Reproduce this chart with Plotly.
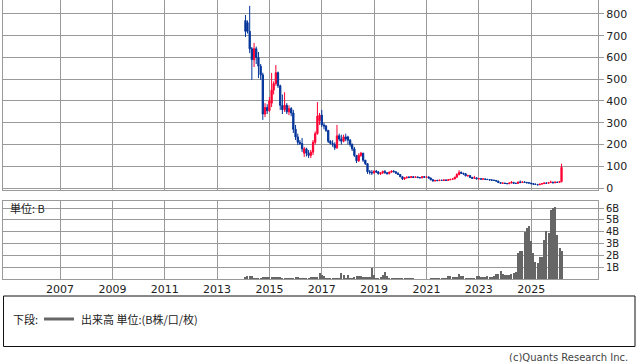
import pandas as pd
import plotly.graph_objects as go

# Monthly bars, Feb 2014 .. Mar 2026
dates = pd.date_range("2014-02-01", periods=146, freq="MS")

opens = [
    770, 760, 720, 640, 590, 640, 600, 560, 520, 340, 370,
    355, 390, 450, 480, 530, 470, 380, 360, 380, 350, 365, 345,
    270, 235, 210, 205, 160, 180, 160, 150, 165, 210, 250, 310,
    335, 290, 285, 265, 215, 205, 200, 185, 240, 225, 215, 235,
    235, 220, 200, 180, 150, 125, 150, 160, 128, 112, 75, 72,
    70, 78, 74, 66, 70, 76, 70, 66, 73, 78, 75, 68,
    62, 52, 42, 47, 50, 48, 52, 49, 51, 48, 47, 52,
    50, 51, 46, 38, 33, 35, 34, 36, 35, 37, 35, 38,
    40, 42, 50, 62, 72, 68, 66, 56, 58, 48, 45, 47,
    42, 43, 41, 42, 40, 39, 37, 36, 35, 32, 25, 22,
    23, 21, 20, 23, 26, 22, 21, 27, 26, 28, 26, 24,
    23, 20, 18, 17, 15, 18, 20, 23, 22, 25, 27, 24,
    27, 26, 29,
]
highs = [
    795, 770, 837, 648, 667, 650, 625, 570, 530, 390, 385,
    418, 529, 490, 565, 535, 475, 430, 440, 390, 380, 372, 359,
    290, 250, 221, 230, 189, 185, 175, 175, 221, 260, 395, 345,
    359, 300, 290, 267, 220, 220, 210, 290, 250, 245, 245, 250,
    240, 225, 205, 189, 152, 160, 166, 162, 129, 115, 83, 83,
    80, 83, 78, 72, 80, 83, 74, 76, 80, 82, 77, 72,
    64, 54, 50, 52, 55, 54, 54, 53, 53, 51, 54, 55,
    56, 54, 48, 42, 37, 38, 38, 38, 39, 39, 40, 42,
    44, 52, 68, 82, 76, 70, 68, 60, 59, 52, 56, 48,
    45, 44, 44, 43, 42, 41, 40, 38, 36, 33, 27, 25,
    24, 23, 25, 32, 28, 24, 30, 35, 30, 30, 28, 27,
    24, 21, 20, 18, 19, 22, 26, 25, 27, 34, 29, 30,
    29, 32, 112,
]
lows = [
    694, 710, 620, 497, 556, 570, 505, 497, 313, 326, 340,
    350, 372, 430, 470, 460, 359, 340, 350, 340, 335, 330, 253,
    221, 198, 198, 166, 143, 145, 138, 138, 152, 200, 245, 290,
    281, 270, 258, 207, 200, 190, 175, 180, 215, 200, 210, 215,
    200, 190, 170, 143, 115, 120, 143, 120, 106, 65, 62, 60,
    65, 70, 62, 60, 64, 66, 62, 63, 70, 72, 66, 60,
    50, 37, 37, 44, 46, 46, 47, 46, 47, 45, 45, 48,
    47, 44, 36, 30, 30, 32, 32, 33, 33, 34, 33, 36,
    37, 40, 48, 58, 64, 60, 54, 52, 46, 43, 43, 40,
    40, 39, 38, 38, 37, 35, 34, 33, 30, 24, 20, 20,
    19, 18, 18, 21, 21, 19, 20, 22, 23, 24, 22, 21,
    19, 16, 15, 12, 14, 17, 19, 20, 21, 23, 22, 23,
    24, 24, 27,
]
closes = [
    720, 720, 640, 590, 640, 600, 560, 520, 340, 370, 355,
    400, 450, 480, 530, 470, 380, 360, 380, 350, 365, 345, 270,
    235, 210, 205, 180, 180, 160, 150, 165, 210, 250, 330, 335,
    290, 285, 265, 215, 205, 200, 185, 240, 225, 215, 235, 225,
    220, 200, 180, 150, 125, 150, 160, 128, 112, 75, 72, 70,
    78, 74, 66, 70, 76, 70, 66, 73, 78, 75, 68, 62,
    52, 42, 47, 50, 48, 52, 49, 51, 48, 47, 52, 50,
    51, 46, 38, 33, 35, 34, 36, 35, 37, 35, 38, 40,
    42, 50, 62, 72, 68, 66, 56, 58, 48, 45, 47, 42,
    43, 41, 42, 40, 39, 37, 36, 35, 32, 25, 22, 23,
    21, 20, 23, 26, 22, 21, 27, 26, 28, 26, 24, 23,
    20, 18, 17, 15, 18, 20, 23, 22, 25, 27, 24, 27,
    26, 29, 95,
]
volume_b = [
    0.15, 0.25, 0.24, 0.22, 0.12, 0.1, 0.1, 0.08, 0.2, 0.2,
    0.2, 0.18, 0.18, 0.18, 0.15, 0.15, 0.15, 0.1, 0.1, 0.1,
    0.1, 0.1, 0.1, 0.13, 0.13, 0.1, 0.1, 0.1, 0.1, 0.12,
    0.15, 0.15, 0.2, 0.2, 0.52, 0.3, 0.22, 0.1, 0.08, 0.08,
    0.08, 0.08, 0.1, 0.1, 0.52, 0.35, 0.12, 0.32, 0.12, 0.12,
    0.2, 0.25, 0.28, 0.22, 0.15, 0.18, 0.2, 0.15, 0.95, 0.3,
    0.12, 0.12, 0.15, 0.37, 0.6, 0.28, 0.1, 0.08, 0.08, 0.08,
    0.08, 0.1, 0.08, 0.08, 0.08, 0.1, 0.08, 0.05, 0.04, 0.03,
    0.03, 0.03, 0.04, 0.03, 0.03, 0.08, 0.1, 0.1, 0.1, 0.12,
    0.1, 0.1, 0.1, 0.28, 0.28, 0.15, 0.15, 0.15, 0.45, 0.22,
    0.22, 0.08, 0.08, 0.08, 0.08, 0.1, 0.22, 0.22, 0.15, 0.15,
    0.15, 0.22, 0.2, 0.2, 0.28, 0.42, 0.42, 0.65, 0.4, 0.37,
    0.37, 0.37, 0.45, 0.5, 0.6, 2.2, 2.4, 2.4, 4.0, 4.3,
    4.5, 3.2, 2.2, 1.4, 1.35, 1.9, 1.9, 3.3, 4.1, 3.9,
    5.8, 6.0, 6.1, 3.75, 2.6, 2.4,
]

year_ticks = ["2007", "2009", "2011", "2013", "2015", "2017", "2019", "2021", "2023", "2025"]
price_ticks = [0, 100, 200, 300, 400, 500, 600, 700, 800]
vol_ticks = [1, 2, 3, 4, 5, 6]
vol_tick_text = ["1B", "2B", "3B", "4B", "5B", "6B"]

RED = "#ff0033"
BLUE = "#003399"
GRID = "#9a9a9a"
FONT = "DejaVu Sans"
JFONT = "Noto Sans CJK JP"

W, H = 638, 362
ML, MR, MT, MB = 3, 40, 0, 83
PW = W - ML - MR
PH = H - MT - MB


def px_x(px):
    return (px - ML) / PW


def px_y(py):
    return (MT + PH - py) / PH


fig = go.Figure()
fig.add_trace(go.Candlestick(
    x=dates, open=opens, high=highs, low=lows, close=closes,
    increasing=dict(line=dict(color=RED, width=1), fillcolor=RED),
    decreasing=dict(line=dict(color=BLUE, width=1), fillcolor=BLUE),
    whiskerwidth=0, xaxis="x", yaxis="y", showlegend=False, hoverinfo="skip",
))
fig.add_trace(go.Bar(
    x=dates, y=volume_b, marker=dict(color="#666666", line=dict(width=0)),
    xaxis="x2", yaxis="y2", showlegend=False, hoverinfo="skip",
))

xr = ["2004-10-27", "2027-07-23"]
tickvals_x = [f"{y}-01-01" for y in year_ticks]
common_x = dict(
    type="date", range=xr, tickvals=tickvals_x, ticktext=year_ticks,
    showgrid=True, gridcolor=GRID, gridwidth=1, showline=True, mirror=True,
    linecolor=GRID, linewidth=1, zeroline=False, ticks="",
    tickfont=dict(family=FONT, size=11, color="#222"), fixedrange=True,
)
fig.update_layout(
    width=W, height=H, margin=dict(l=ML, r=MR, t=MT, b=MB),
    paper_bgcolor="white", plot_bgcolor="white", bargap=0, boxgap=0.1,
    xaxis=dict(domain=[0, 1], anchor="y", showticklabels=False,
               rangeslider=dict(visible=False), **common_x),
    xaxis2=dict(domain=[0, 1], anchor="y2", showticklabels=True, **common_x),
    yaxis=dict(domain=[px_y(190), 1], range=[-9, 864], side="right",
               tickvals=price_ticks, ticks="outside", ticklen=5, tickcolor=GRID,
               showgrid=True, gridcolor=GRID, showline=True, mirror=True,
               linecolor=GRID, zeroline=False,
               tickfont=dict(family=FONT, size=11, color="#222")),
    yaxis2=dict(domain=[0, px_y(201)], range=[0, 6.6], side="right",
                tickvals=vol_ticks, ticktext=vol_tick_text, ticks="outside",
                ticklen=5, tickcolor=GRID, showgrid=True, gridcolor=GRID,
                showline=True, mirror=True, linecolor=GRID, zeroline=False,
                tickfont=dict(family=FONT, size=10, color="#222")),
)

fig.add_annotation(text="単位: B", x=px_x(8), y=px_y(208), xref="paper", yref="paper",
                   xanchor="left", yanchor="middle", showarrow=False,
                   font=dict(family=JFONT, size=11, color="#222"))

# legend box
fig.add_shape(type="rect", xref="paper", yref="paper",
              x0=px_x(3.5), x1=px_x(635), y0=px_y(296), y1=px_y(346.5),
              line=dict(color="#111", width=1), fillcolor="rgba(0,0,0,0)")
fig.add_annotation(text="下段:", x=px_x(11), y=px_y(319), xref="paper", yref="paper",
                   xanchor="left", yanchor="middle", showarrow=False,
                   font=dict(family=JFONT, size=11, color="#222"))
fig.add_shape(type="line", xref="paper", yref="paper",
              x0=px_x(44), x1=px_x(74), y0=px_y(319), y1=px_y(319),
              line=dict(color="#666666", width=3))
fig.add_annotation(text="出来高 単位:(B株/口/枚)", x=px_x(79), y=px_y(319),
                   xref="paper", yref="paper", xanchor="left", yanchor="middle",
                   showarrow=False, font=dict(family=JFONT, size=11, color="#222"))
fig.add_annotation(text="(c)Quants Research Inc.", x=px_x(630), y=px_y(357),
                   xref="paper", yref="paper", xanchor="right", yanchor="middle",
                   showarrow=False, font=dict(family=FONT, size=10, color="#444"))

fig.write_html("out.html", config={"staticPlot": True},
               post_script="document.body.style.margin='0';document.body.style.overflow='hidden';")
